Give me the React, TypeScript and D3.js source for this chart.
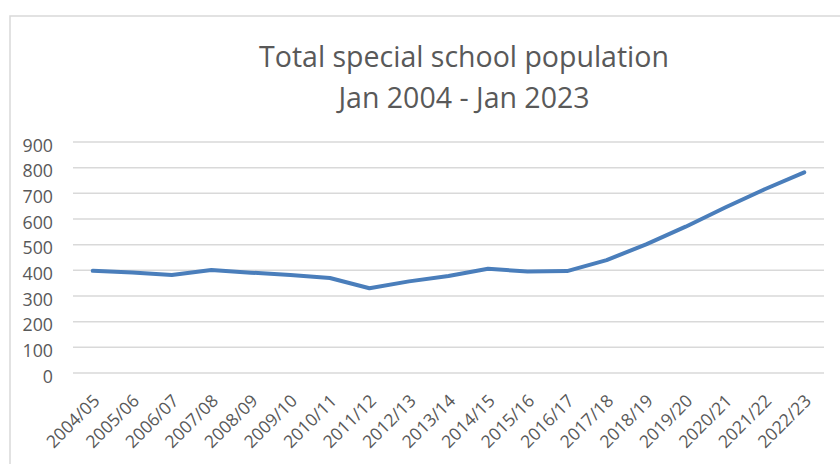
import React from "react";
import * as d3 from "d3";

const years = [
  "2004/05", "2005/06", "2006/07", "2007/08", "2008/09", "2009/10", "2010/11",
  "2011/12", "2012/13", "2013/14", "2014/15", "2015/16", "2016/17", "2017/18",
  "2018/19", "2019/20", "2020/21", "2021/22", "2022/23",
];
const population = [
  398, 392, 382, 401, 391, 382, 370, 330, 357, 378, 406, 395, 397, 440, 501,
  570, 645, 716, 782,
];
const yTicks = [0, 100, 200, 300, 400, 500, 600, 700, 800, 900];
const titleLines = ["Total special school population", "Jan 2004 - Jan 2023"];

const W = 840;
const H = 464;
const margin = { top: 142, right: 16, bottom: 91, left: 73 };
const font = "'Open Sans', sans-serif";

const App: React.FC = () => {
  const innerW = W - margin.left - margin.right;
  const x = d3
    .scaleBand<string>()
    .domain(years)
    .range([margin.left, margin.left + innerW]);
  const y = d3
    .scaleLinear()
    .domain([0, 900])
    .range([H - margin.bottom, margin.top]);

  const line = d3
    .line<number>()
    .x((_, i) => (x(years[i]) as number) + x.bandwidth() / 2)
    .y((d) => y(d));

  const axisY = y(0);

  return (
    <svg
      width={W}
      height={H}
      style={{ position: "absolute", left: 0, top: 0, background: "#fff" }}
    >
      {/* chart frame */}
      <rect
        x={10}
        y={16}
        width={W + 10}
        height={H + 10}
        fill="#fff"
        stroke="#d9d9d9"
        strokeWidth={1.5}
      />
      {titleLines.map((t, i) => (
        <text
          key={t}
          x={464}
          y={67 + i * 41}
          textAnchor="middle"
          fontFamily={font}
          fontSize={28.5}
          fill="#595959"
        >
          {t}
        </text>
      ))}
      {yTicks.map((t) => (
        <g key={t}>
          <line
            x1={margin.left}
            x2={margin.left + innerW}
            y1={y(t)}
            y2={y(t)}
            stroke="#d9d9d9"
            strokeWidth={1.5}
          />
          <text
            x={53}
            y={y(t)}
            dy="0.55em"
            textAnchor="end"
            fontFamily={font}
            fontSize={17.8}
            fill="#595959"
          >
            {t}
          </text>
        </g>
      ))}
      {years.map((yr) => {
        const cx = (x(yr) as number) + x.bandwidth() / 2;
        return (
          <text
            key={yr}
            transform={`translate(${cx + 8},${axisY + 29}) rotate(-45)`}
            textAnchor="end"
            fontFamily={font}
            fontSize={17.5}
            fill="#595959"
          >
            {yr}
          </text>
        );
      })}
      <path
        d={line(population) || ""}
        fill="none"
        stroke="#4a7ebb"
        strokeWidth={4}
        strokeLinejoin="round"
        strokeLinecap="round"
      />
    </svg>
  );
};

export default App;
